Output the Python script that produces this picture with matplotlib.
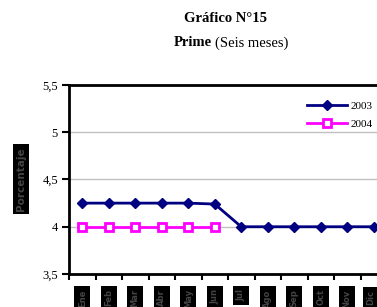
import matplotlib
matplotlib.use("Agg")
import matplotlib.pyplot as plt
from matplotlib.ticker import FixedLocator

months = ["Ene", "Feb", "Mar", "Abr", "May", "Jun", "Jul", "Ago", "Sep", "Oct", "Nov", "Dic"]
s2003 = [4.25, 4.25, 4.25, 4.25, 4.25, 4.24, 4.0, 4.0, 4.0, 4.0, 4.0, 4.0]
s2004 = [4.0, 4.0, 4.0, 4.0, 4.0, 4.0]
yticks = [3.5, 4.0, 4.5, 5.0, 5.5]
ytick_labels = ["3,5", "4", "4,5", "5", "5,5"]

plt.rcParams['font.family'] = ['Liberation Serif', 'DejaVu Serif']

fig = plt.figure(figsize=(3.77, 3.07), dpi=100)
W, H = 377, 307
ax = fig.add_axes([69 / W, (H - 274) / H, 318 / W, (274 - 85) / H])

x = list(range(len(months)))
ax.plot(x, s2003, color="#000080", lw=2, marker="D", ms=5.5, mfc="#000080", mec="#000080",
        label="2003", zorder=3)
ax.plot(list(range(len(s2004))), s2004, color="#ff00ff", lw=2, marker="s", ms=5.5,
        mfc="white", mec="#ff00ff", mew=2, label="2004", zorder=3)

ax.set_xlim(-0.5, len(months) - 0.5)
ax.set_ylim(3.5, 5.5)
ax.set_yticks(yticks)
ax.set_yticklabels(ytick_labels, fontsize=9)
for yv in yticks[1:-1]:
    ax.axhline(yv, color="#c0c0c0", lw=1, zorder=1)

ax.xaxis.set_major_locator(FixedLocator([i - 0.5 for i in range(len(months) + 1)]))
ax.xaxis.set_major_formatter(plt.NullFormatter())
ax.xaxis.set_minor_locator(FixedLocator(x[:-1]))
ax.set_xticklabels(months[:-1], minor=True, rotation=90, fontsize=6, color="#444444",
                   family="DejaVu Sans", fontweight="bold")
for lab in ax.get_xticklabels(minor=True):
    lab.set_bbox(dict(facecolor="black", edgecolor="none", pad=2.5))
ax.tick_params(axis="x", which="major", direction="out", length=4, width=1.5)
ax.tick_params(axis="x", which="minor", length=0, pad=11)
ax.tick_params(axis="y", direction="out", length=5, width=1.5, pad=3)
# last label sits against the right edge of the figure
ax.text(len(months) - 1 - 0.12, -0.085, months[-1], transform=ax.get_xaxis_transform(),
        rotation=90, ha="center", va="top", fontsize=6, color="#444444",
        family="DejaVu Sans", fontweight="bold",
        bbox=dict(facecolor="black", edgecolor="none", pad=2.5), clip_on=False)

for side in ["left", "bottom", "top"]:
    ax.spines[side].set_linewidth(2)
    ax.spines[side].set_color("black")
ax.spines["right"].set_visible(False)

fig.text(21 / W, 1 - 179 / H, "Porcentaje", rotation=90, ha="center", va="center",
         fontsize=7.5, color="#444444", family="DejaVu Sans", fontweight="bold",
         bbox=dict(facecolor="black", edgecolor="none", pad=2.5))

leg = ax.legend(loc="upper left", bbox_to_anchor=(0.735, 0.94), frameon=False,
                fontsize=8, handlelength=3.6, handletextpad=0.3, labelspacing=0.75,
                borderaxespad=0)

fig.text(225 / W, 1 - 18 / H, "Gráfico N°15", ha="center", va="center",
         fontsize=10.5, fontweight="bold")
fig.text(212 / W, 1 - 43 / H, "Prime", ha="right", va="center",
         fontsize=10.5, fontweight="bold")
fig.text(215 / W, 1 - 43 / H, "(Seis meses)", ha="left", va="center", fontsize=10.5)

fig.savefig("out.png", dpi=100)
